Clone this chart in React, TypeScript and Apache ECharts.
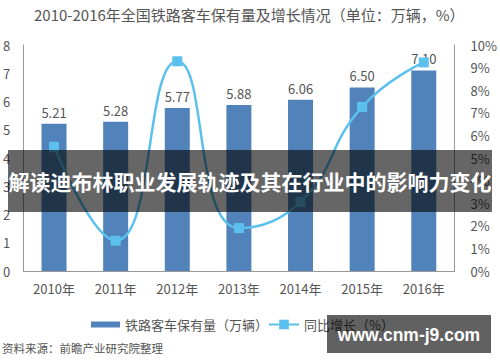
import React, { useEffect, useRef } from "react";
import * as echarts from "echarts";

const categories = ["2010年", "2011年", "2012年", "2013年", "2014年", "2015年", "2016年"];
const stockValues = [5.21, 5.28, 5.77, 5.88, 6.06, 6.5, 7.1];
const growthValues = [5.5, 1.34, 9.28, 1.9, 3.06, 7.26, 9.23];
const barName = "铁路客车保有量（万辆）";
const lineName = "同比增长（%）";
const titleText = "2010-2016年全国铁路客车保有量及增长情况（单位：万辆，%）";
const sourceText = "资料来源：前瞻产业研究院整理";
const bannerText = "解读迪布林职业发展轨迹及其在行业中的影响力变化";
const watermarkText = "www.cnm-j9.com";

const FONT = "'Noto Sans CJK SC', 'Noto Sans', sans-serif";

export default function App() {
  const ref = useRef<HTMLDivElement>(null);
  useEffect(() => {
    if (!ref.current) return;
    const chart = echarts.init(ref.current, undefined, { renderer: "svg" });
    chart.setOption({
      animation: false,
      backgroundColor: "#ffffff",
      textStyle: { fontFamily: FONT },
      title: {
        text: titleText,
        left: 29,
        top: 2,
        textStyle: { fontSize: 15, color: "#555", fontWeight: "normal", fontFamily: FONT },
      },
      legend: [
        {
          data: [{ name: barName, icon: "rect" }],
          left: 86,
          top: 313,
          itemWidth: 29,
          itemHeight: 6,
          textStyle: { fontSize: 13, color: "#555", fontFamily: FONT },
        },
        {
          data: [lineName],
          left: 263,
          top: 313,
          itemWidth: 30,
          itemHeight: 12,
          textStyle: { fontSize: 13, color: "#555", fontFamily: FONT },
        },
      ],
      grid: { left: 23, right: 43, top: 45, bottom: 91, containLabel: false },
      xAxis: {
        type: "category",
        data: categories,
        axisLine: { lineStyle: { color: "#999" } },
        axisTick: { show: false },
        axisLabel: { color: "#555", fontSize: 13, margin: 11, fontFamily: FONT },
      },
      yAxis: [
        {
          type: "value",
          min: 0,
          max: 8,
          interval: 1,
          axisLine: { show: true, lineStyle: { color: "#999" } },
          axisTick: { show: false },
          splitLine: { show: false },
          axisLabel: { color: "#555", fontSize: 13, margin: 13, fontFamily: FONT },
        },
        {
          type: "value",
          min: 0,
          max: 10,
          interval: 1,
          position: "right",
          axisLine: { show: true, lineStyle: { color: "#999" } },
          axisTick: { show: false },
          splitLine: { show: false },
          axisLabel: { color: "#555", fontSize: 13, margin: 16, formatter: "{value}%", fontFamily: FONT },
        },
      ],
      series: [
        {
          name: barName,
          type: "bar",
          data: stockValues,
          barWidth: 25,
          itemStyle: { color: "#5282ba" },
          label: {
            show: true,
            position: "top",
            distance: 5,
            color: "#555",
            fontSize: 13,
            fontFamily: FONT,
            formatter: (p: any) => Number(p.value).toFixed(2),
          },
        },
        {
          name: lineName,
          type: "line",
          yAxisIndex: 1,
          data: growthValues,
          smooth: 0.5,
          symbol: "rect",
          symbolSize: 10,
          lineStyle: { color: "#5cc0ee", width: 2.5 },
          itemStyle: { color: "#5cc0ee" },
          z: 5,
        },
      ],
      graphic: [
        {
          type: "text",
          left: 2,
          top: 342,
          style: { text: sourceText, fontSize: 11.5, fill: "#555", fontFamily: FONT },
        },
        {
          type: "rect",
          shape: { x: 8, y: 150, width: 484, height: 62 },
          style: { fill: "rgba(0,0,0,0.6)" },
          z: 100,
        },
        {
          type: "text",
          x: 250,
          y: 181,
          style: {
            text: bannerText,
            fontSize: 21,
            fontWeight: "bold",
            fill: "#ffffff",
            align: "center",
            verticalAlign: "middle",
            fontFamily: FONT,
          },
          z: 101,
        },
        {
          type: "rect",
          shape: { x: 327, y: 315, width: 164, height: 38 },
          style: { fill: "rgba(0,0,0,0.62)" },
          z: 100,
        },
        {
          type: "text",
          x: 409,
          y: 335,
          style: {
            text: watermarkText,
            fontSize: 17.5,
            fontWeight: "bold",
            fill: "#ffffff",
            align: "center",
            verticalAlign: "middle",
            fontFamily: "'Liberation Sans', sans-serif",
          },
          z: 101,
        },
      ],
    });
    return () => chart.dispose();
  }, []);
  return (
    <div
      ref={ref}
      style={{ position: "fixed", left: 0, top: 0, width: 500, height: 362 }}
    />
  );
}
